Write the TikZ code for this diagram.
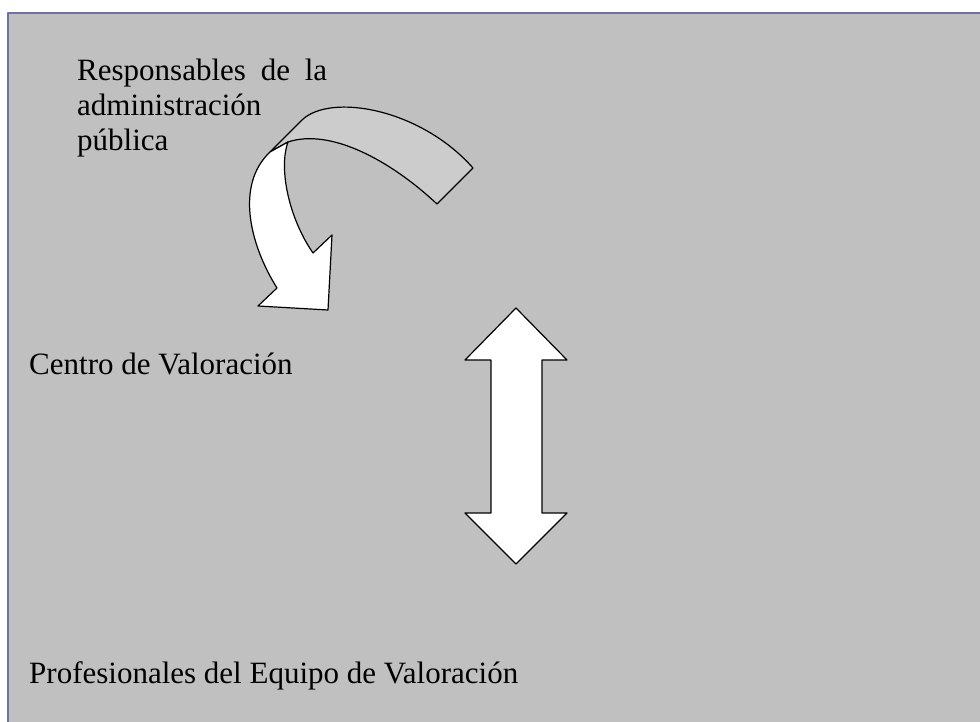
\documentclass[tikz,border=0pt]{standalone}
\usepackage{fontspec}
\setmainfont{Liberation Serif}
\definecolor{fondo}{RGB}{192,192,192}
\definecolor{banda}{RGB}{204,204,204}
\definecolor{marco}{RGB}{112,112,168}
\begin{document}
\begin{tikzpicture}[x=1pt,y=-1pt, line join=round, line cap=round,
    texto/.style={inner sep=0pt, font=\fontsize{31}{35}\selectfont},
    flecha/.style={draw=black, line width=1.2pt, fill=white}]
        %Marco
        \useasboundingbox (0,0) rectangle (980,722);
        \draw[marco, line width=1.5pt, fill=fondo] (8,13) rectangle (995,740);
        %Textos
        \node[texto, anchor=north west, align=left] (resp) at (77,59)
            {\makebox[250pt][s]{Responsables de la}\\administración\\pública};
        \node[texto, anchor=base west] (centro) at (29,374) {Centro de Valoración};
        \node[texto, anchor=base west] (prof) at (29,683) {Profesionales del Equipo de Valoración};
        %Flecha curva
        \draw[flecha, fill=banda] (270,152) -- (302,120) .. controls (330,93) and (420,108) .. (473,168)
            -- (437,204) .. controls (390,160) and (330,128) .. (288,142) -- cycle;
        \draw[flecha] (288,142) .. controls (278,170) and (290,220) .. (313,253)
            -- (332,235) -- (328,310) -- (258,306) -- (277,288)
            .. controls (250,245) and (235,185) .. (270,152) -- cycle;
        %Flecha doble
        \draw[flecha] (516,308) -- (567,360) -- (542,360) -- (542,513) -- (567,513) -- (516,564)
            -- (465,513) -- (491,513) -- (491,360) -- (465,360) -- cycle;
\end{tikzpicture}
\end{document}
